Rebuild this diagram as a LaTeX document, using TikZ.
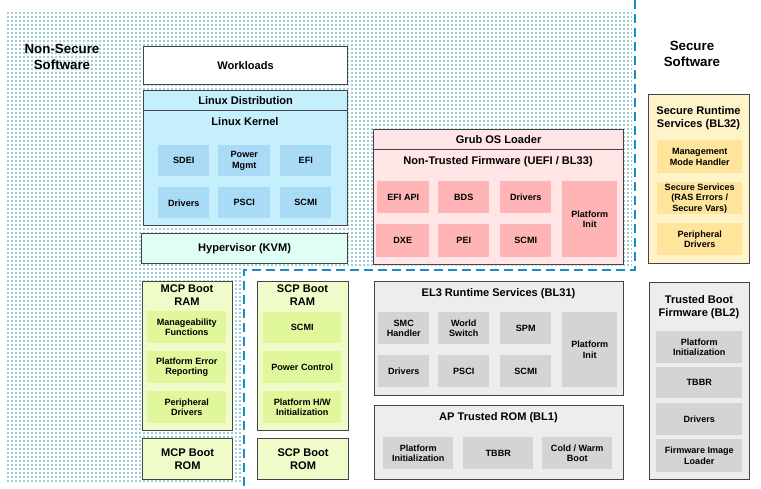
\documentclass[tikz,border=0pt]{standalone}
\usepackage{fontspec}
\setmainfont{Liberation Sans}
\usepackage{tikz}
\usetikzlibrary{patterns.meta}
\definecolor{edgec}{HTML}{444444}
\definecolor{dotc}{HTML}{3E9EB8}
\definecolor{secln}{HTML}{1A8DC1}
\definecolor{linbg}{HTML}{C5EFFD}
\definecolor{linin}{HTML}{A9DBF7}
\definecolor{hypbg}{HTML}{DFFFF5}
\definecolor{pinkbg}{HTML}{FFE5E5}
\definecolor{pinkin}{HTML}{FFB5B5}
\definecolor{yelbg}{HTML}{FFF3C9}
\definecolor{yelin}{HTML}{FFE59C}
\definecolor{grybg}{HTML}{ECEEEE}
\definecolor{gryin}{HTML}{D4D4D4}
\definecolor{limebg}{HTML}{EFFCC9}
\definecolor{limein}{HTML}{E1F79B}
\tikzset{every node/.style={align=center, inner sep=0pt, font=\bfseries}}
\tikzset{blk/.style={draw=edgec, line width=0.9pt, font=\fontsize{8.3}{9.75}\selectfont\bfseries}}
\tikzset{sub/.style={font=\fontsize{6.8}{7.8}\selectfont\bfseries}}
\tikzset{ttl/.style={font=\fontsize{8.3}{9.75}\selectfont\bfseries}}
\tikzset{side/.style={font=\fontsize{10}{12}\selectfont\bfseries}}
% box from its corners, in pixels
\tikzset{span/.style args={#1,#2,#3,#4}{anchor=north west, at={(#1,#2)},
  minimum width={(#3-#1)*0.75pt}, minimum height={(#4-#2)*0.75pt}}}

\begin{document}
\begin{tikzpicture}[x=0.75pt, y=-0.75pt]
\useasboundingbox (0,0) rectangle (761,489);

% non-secure area
\fill[pattern={Dots[distance=3pt, radius=0.6pt]}, pattern color=dotc] (5,10) -- (632,10) -- (632,267) -- (241,267) -- (241,483) -- (5,483) -- cycle;
\draw[secln, line width=2.1pt, dash pattern=on 6.5pt off 4pt] (635,0) -- (635,270) -- (244,270) -- (244,489);

\node[side] (nsec) at (62,57) {Non-Secure\\Software};
\node[side] (sec) at (692,54) {Secure\\Software};

% linux stack
\node[blk, fill=white, span={143,46,347,84}] (work) {Workloads};
\node[blk, fill=linbg, span={143,90,347,110}] (dist) {Linux Distribution};
\node[blk, fill=linbg, span={143,110,347,225}] (kern) {};
\node[ttl] (kerntl) at (245,122) {Linux Kernel};
\begin{scope}[every node/.append style={sub, fill=linin}]
\node[span={158,145,209,176}] (sdei) {SDEI};
\node[span={218,145,270,176}] (pwr) {Power\\Mgmt};
\node[span={280,145,331,176}] (efi) {EFI};
\node[span={158,187,209,218}] (kdrv) {Drivers};
\node[span={218,187,270,218}] (kpsci) {PSCI};
\node[span={280,187,331,218}] (kscmi) {SCMI};
\end{scope}
\node[blk, fill=hypbg, span={141,233,347,263}] (hyp) {Hypervisor (KVM)};

% uefi
\node[blk, fill=pinkbg, span={373,129,623,149}] (grub) {Grub OS Loader};
\node[blk, fill=pinkbg, span={373,149,623,264}] (ntf) {};
\node[ttl] (ntftl) at (498,162) {Non-Trusted Firmware (UEFI / BL33)};
\begin{scope}[every node/.append style={sub, fill=pinkin}]
\node[span={377,181,429,213}] (efiapi) {EFI API};
\node[span={438,181,489,213}] (bds) {BDS};
\node[span={500,181,551,213}] (udrv) {Drivers};
\node[span={562,181,617,257}] (uplat) {Platform\\Init};
\node[span={376,224,429,257}] (dxe) {DXE};
\node[span={438,224,489,257}] (pei) {PEI};
\node[span={500,224,551,257}] (uscmi) {SCMI};
\end{scope}

% secure runtime
\node[blk, fill=yelbg, span={648,94,749,263}] (bl32) {};
\node[ttl] (bl32tl) at (698.5,118.5) {Secure Runtime\\Services (BL32)};
\begin{scope}[every node/.append style={sub, fill=yelin}]
\node[span={657,140,742,173}] (mm) {Management\\Mode Handler};
\node[span={657,182,742,214}] (ssvc) {Secure Services\\(RAS Errors /\\Secure Vars)};
\node[span={657,223,742,255}] (sper) {Peripheral\\Drivers};
\end{scope}

% mcp / scp
\node[blk, fill=limebg, span={142,281,232,430}] (mcpram) {};
\node[ttl] (mcptl) at (187,295.5) {MCP Boot\\RAM};
\node[blk, fill=limebg, span={142,438,232,479}] (mcprom) {MCP Boot\\ROM};
\node[blk, fill=limebg, span={257,281,348,430}] (scpram) {};
\node[ttl] (scptl) at (302.5,295.5) {SCP Boot\\RAM};
\node[blk, fill=limebg, span={257,438,348,479}] (scprom) {SCP Boot\\ROM};
\begin{scope}[every node/.append style={sub, fill=limein}]
\node[span={147,311,226,343}] (mfun) {Manageability\\Functions};
\node[span={147,351,226,383}] (merr) {Platform Error\\Reporting};
\node[span={147,391,226,423}] (mper) {Peripheral\\Drivers};
\node[span={263,312,341,343}] (sscmi) {SCMI};
\node[span={263,351,341,383}] (spwr) {Power Control};
\node[span={263,391,341,423}] (shw) {Platform H/W\\Initialization};
\end{scope}

% el3 / bl1 / bl2
\node[blk, fill=grybg, span={374,281,623,395}] (bl31) {};
\node[ttl] (bl31tl) at (498.5,294) {EL3 Runtime Services (BL31)};
\node[blk, fill=grybg, span={374,405,623,479}] (bl1) {};
\node[ttl] (bl1tl) at (498.5,418) {AP Trusted ROM (BL1)};
\node[blk, fill=grybg, span={649,282,749,479}] (bl2) {};
\node[ttl] (bl2tl) at (699,307.5) {Trusted Boot\\Firmware (BL2)};
\begin{scope}[every node/.append style={sub, fill=gryin}]
\node[span={378,312,429,344}] (smc) {SMC\\Handler};
\node[span={438,312,489,344}] (wsw) {World\\Switch};
\node[span={500,312,551,344}] (spm) {SPM};
\node[span={562,312,617,387}] (eplat) {Platform\\Init};
\node[span={378,355,429,387}] (edrv) {Drivers};
\node[span={438,355,489,387}] (epsci) {PSCI};
\node[span={500,355,551,387}] (escmi) {SCMI};
\node[span={383,437,453,469}] (rplat) {Platform\\Initialization};
\node[span={463,437,533,469}] (rtbbr) {TBBR};
\node[span={542,437,612,469}] (rboot) {Cold / Warm\\Boot};
\node[span={656,331,742,363}] (tplat) {Platform\\Initialization};
\node[span={656,367,742,398}] (ttbbr) {TBBR};
\node[span={656,403,742,435}] (tdrv) {Drivers};
\node[span={656,439,742,472}] (tfil) {Firmware Image\\Loader};
\end{scope}

\end{tikzpicture}
\end{document}
